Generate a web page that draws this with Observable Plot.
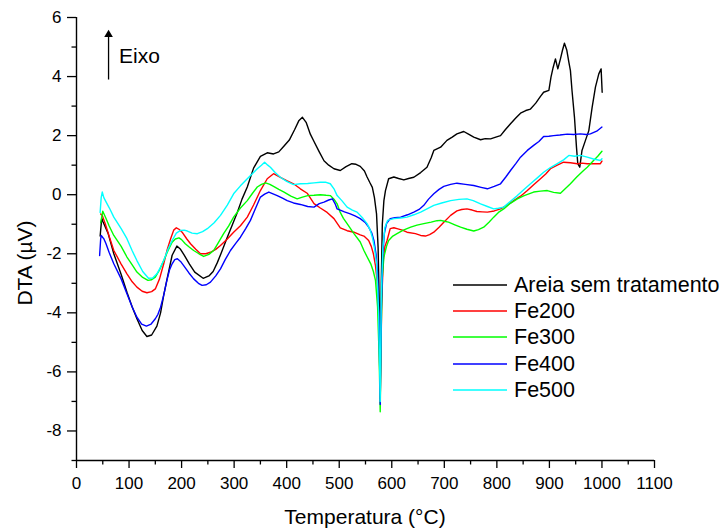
<!DOCTYPE html>
<html>
<head>
<meta charset="utf-8">
<script src="https://cdn.jsdelivr.net/npm/d3@7"></script>
<script src="https://cdn.jsdelivr.net/npm/@observablehq/plot@0.6"></script>
<style>
  body { margin: 0; background: #fff; }
  #wrap { position: relative; width: 722px; height: 531px; font-family: "Liberation Sans", Arial, sans-serif; }
  #overlay { position: absolute; left: 0; top: 0; pointer-events: none; font-family: "Liberation Sans", Arial, sans-serif; }
</style>
</head>
<body>
<div id="wrap"></div>
<script>
// ---- data ----
const seriesNames = ["Areia sem tratamento", "Fe200", "Fe300", "Fe400", "Fe500"];
const seriesColors = ["#000000", "#ff0000", "#00ff00", "#0000ff", "#00ffff"];

const areia = [[45,-1.4],[48,-0.8],[50,-0.9],[60,-1.3],[71,-2.0],[85,-2.7],[96,-3.3],[106,-3.8],[115,-4.2],[125,-4.6],[134,-4.8],[143,-4.75],[153,-4.45],[160,-4.0],[166,-3.4],[173,-2.8],[182,-2.05],[191,-1.74],[198,-1.85],[205,-2.05],[215,-2.35],[225,-2.62],[241,-2.83],[252,-2.75],[260,-2.6],[268,-2.3],[276,-1.95],[287,-1.44],[297,-1.0],[306,-0.6],[315,-0.15],[325,0.26],[337,0.9],[350,1.3],[363,1.42],[375,1.38],[385,1.45],[395,1.65],[405,1.85],[415,2.2],[423,2.5],[430,2.62],[437,2.45],[445,2.05],[452,1.8],[462,1.45],[471,1.15],[480,1.0],[490,0.88],[502,0.82],[513,0.95],[524,1.05],[532,1.03],[540,0.96],[548,0.8],[553,0.6],[558,0.42],[563,0.25],[567,-0.1],[571,-0.65],[574,-1.8],[576,-3.5],[578,-6.6],[580,-3.0],[582,-1.0],[585,-0.2],[588,0.14],[594,0.54],[604,0.6],[613,0.55],[623,0.5],[632,0.55],[642,0.59],[655,0.75],[667,0.93],[675,1.25],[680,1.5],[693,1.61],[705,1.84],[715,1.95],[724,2.06],[737,2.14],[746,2.05],[756,1.95],[769,1.86],[778,1.9],[788,1.89],[798,1.95],[807,2.0],[816,2.2],[826,2.4],[836,2.6],[845,2.76],[855,2.85],[864,2.9],[874,3.1],[883,3.33],[889,3.47],[899,3.53],[903,3.98],[907,4.3],[911.5,4.6],[916,4.26],[921,4.6],[925,4.9],[928.6,5.13],[933,4.9],[937,4.49],[940,4.2],[943,3.53],[947.7,2.62],[951.5,1.61],[954,1.05],[957.8,0.93],[962,1.5],[968.6,1.84],[975,2.17],[981.3,2.96],[987.6,3.64],[994,4.09],[998.4,4.26],[1000.4,3.47]];

const fe200 = [[46,-0.65],[49,-0.7],[55,-1.0],[62,-1.4],[71,-1.89],[85,-2.35],[96,-2.68],[106,-2.95],[115,-3.13],[125,-3.27],[134,-3.32],[143,-3.28],[150,-3.19],[158,-2.85],[166,-2.34],[172,-1.9],[179,-1.5],[185,-1.2],[190,-1.12],[195,-1.17],[201,-1.27],[210,-1.5],[217,-1.66],[227,-1.85],[236,-2.0],[246,-2.0],[255,-1.95],[265,-1.85],[274,-1.72],[287,-1.5],[299,-1.27],[312,-1.05],[325,-0.76],[337,-0.35],[350,0.14],[363,0.54],[375,0.71],[388,0.59],[400,0.48],[413,0.37],[426,0.2],[439,0.05],[452,-0.3],[464,-0.45],[477,-0.6],[490,-0.81],[502,-1.12],[515,-1.22],[528,-1.27],[540,-1.36],[547,-1.4],[556,-1.55],[561,-1.75],[565,-2.0],[569,-2.4],[572,-2.9],[575,-4.0],[578,-6.9],[581,-3.5],[584,-2.2],[587,-1.75],[591,-1.55],[597,-1.15],[604,-1.12],[610,-1.15],[620,-1.2],[629,-1.27],[645,-1.32],[655,-1.38],[664,-1.4],[672,-1.35],[680,-1.27],[690,-1.1],[699,-0.93],[712,-0.7],[724,-0.55],[733,-0.5],[743,-0.48],[753,-0.52],[762,-0.57],[772,-0.58],[782,-0.59],[795,-0.55],[807,-0.48],[820,-0.35],[832,-0.2],[845,-0.05],[858,0.14],[870,0.34],[883,0.54],[893,0.7],[902,0.88],[915,1.0],[927,1.1],[940,1.08],[953,1.05],[962,1.07],[972,1.05],[985,1.05],[997,1.05],[1000,1.14]];

const fe300 = [[46,-0.95],[50,-0.56],[56,-0.8],[62,-1.05],[71,-1.38],[85,-1.75],[96,-2.11],[106,-2.38],[115,-2.62],[126,-2.8],[136,-2.9],[143,-2.88],[150,-2.79],[158,-2.55],[166,-2.23],[174,-1.9],[182,-1.61],[188,-1.5],[195,-1.46],[200,-1.52],[207,-1.66],[215,-1.78],[223,-1.89],[233,-2.0],[242,-2.09],[252,-2.02],[261,-1.89],[270,-1.62],[280,-1.32],[290,-1.05],[299,-0.76],[312,-0.45],[325,-0.2],[335,0.05],[344,0.26],[352,0.35],[360,0.4],[368,0.35],[375,0.28],[385,0.18],[395,0.09],[408,-0.05],[420,-0.14],[430,-0.08],[440,-0.03],[452,-0.02],[464,0.0],[475,-0.02],[483,-0.03],[490,-0.15],[496,-0.31],[502,-0.6],[508,-0.8],[515,-0.98],[528,-1.32],[540,-1.6],[547,-1.89],[553,-2.1],[560,-2.34],[565,-2.6],[569,-2.9],[573,-3.8],[576,-5.5],[578,-7.35],[580,-4.5],[582,-2.8],[585,-2.11],[590,-1.75],[594,-1.55],[602,-1.4],[610,-1.32],[622,-1.2],[636,-1.1],[648,-1.03],[661,-0.98],[675,-0.93],[686,-0.88],[693,-0.87],[700,-0.9],[708,-0.93],[720,-1.02],[731,-1.1],[743,-1.17],[756,-1.23],[765,-1.18],[775,-1.1],[785,-0.93],[794,-0.76],[803,-0.6],[813,-0.48],[825,-0.3],[839,-0.14],[852,-0.03],[870,0.09],[883,0.12],[896,0.14],[908,0.08],[921,0.05],[930,0.2],[940,0.37],[952,0.6],[965,0.82],[972,0.93],[984,1.16],[992,1.3],[1000,1.47]];

const fe400 = [[44,-2.06],[46,-1.5],[47,-1.38],[50,-1.45],[52,-1.49],[56,-1.65],[62,-1.95],[71,-2.34],[85,-2.85],[96,-3.35],[106,-3.8],[115,-4.15],[124,-4.38],[133,-4.45],[142,-4.38],[150,-4.2],[155,-4.05],[160,-3.81],[166,-3.4],[172,-2.9],[177,-2.55],[182,-2.34],[187,-2.2],[192,-2.17],[198,-2.26],[204,-2.4],[214,-2.65],[223,-2.85],[232,-3.0],[239,-3.07],[247,-3.05],[255,-2.96],[265,-2.75],[274,-2.51],[283,-2.2],[293,-1.89],[303,-1.65],[312,-1.44],[322,-1.15],[331,-0.87],[341,-0.45],[350,-0.08],[358,0.02],[366,0.09],[374,0.03],[382,-0.03],[392,-0.12],[401,-0.2],[413,-0.28],[426,-0.33],[440,-0.4],[452,-0.42],[462,-0.3],[471,-0.25],[480,-0.18],[487,-0.14],[492,-0.3],[496,-0.48],[510,-0.58],[521,-0.65],[530,-0.72],[540,-0.81],[550,-0.95],[556,-1.1],[562,-1.3],[566,-1.55],[570,-2.0],[573,-2.68],[576,-4.5],[578,-7.1],[580,-4.0],[583,-2.0],[586,-1.3],[590,-0.98],[597,-0.81],[606,-0.78],[617,-0.76],[630,-0.68],[642,-0.59],[652,-0.5],[661,-0.36],[670,-0.15],[680,0.03],[690,0.18],[699,0.28],[712,0.35],[724,0.39],[740,0.35],[756,0.31],[770,0.25],[782,0.2],[795,0.28],[807,0.37],[817,0.6],[826,0.82],[836,1.05],[845,1.27],[858,1.5],[870,1.67],[880,1.8],[889,1.97],[899,1.98],[908,2.0],[920,2.02],[934,2.05],[946,2.04],[959,2.06],[970,2.04],[978,2.06],[990,2.15],[1000,2.29]];

const fe500 = [[45,-0.6],[47,-0.1],[49,0.09],[52,-0.1],[58,-0.3],[64,-0.5],[71,-0.76],[85,-1.15],[96,-1.49],[106,-1.9],[115,-2.23],[126,-2.6],[137,-2.83],[145,-2.82],[153,-2.68],[160,-2.45],[166,-2.23],[174,-1.85],[182,-1.55],[190,-1.3],[198,-1.21],[205,-1.2],[211,-1.23],[220,-1.3],[230,-1.32],[240,-1.25],[249,-1.15],[262,-0.95],[274,-0.7],[287,-0.35],[299,0.03],[312,0.3],[325,0.54],[335,0.72],[344,0.88],[352,1.0],[358,1.1],[364,1.0],[369,0.93],[378,0.75],[388,0.59],[400,0.45],[413,0.34],[426,0.37],[440,0.38],[452,0.4],[464,0.42],[475,0.42],[483,0.37],[490,0.2],[496,-0.03],[505,-0.2],[515,-0.42],[525,-0.52],[534,-0.59],[545,-0.8],[553,-0.98],[559,-1.2],[563,-1.44],[567,-1.8],[571,-2.34],[575,-4.0],[578,-7.0],[580,-3.5],[583,-1.8],[587,-1.1],[592,-0.87],[604,-0.81],[617,-0.79],[629,-0.76],[642,-0.68],[655,-0.59],[667,-0.48],[680,-0.36],[695,-0.28],[712,-0.2],[728,-0.16],[743,-0.14],[755,-0.2],[769,-0.31],[782,-0.4],[794,-0.48],[803,-0.46],[813,-0.42],[826,-0.22],[839,-0.03],[851,0.17],[864,0.37],[877,0.57],[889,0.76],[902,0.92],[915,1.05],[927,1.18],[937,1.33],[948,1.3],[959,1.33],[972,1.27],[984,1.21],[997,1.16],[1000,1.22]];

const xDomain = [0, 1100];
const yDomain = [-9, 6];
const xMajorTicks = [0,100,200,300,400,500,600,700,800,900,1000,1100];
const xMinorTicks = [50,150,250,350,450,550,650,750,850,950,1050];
const yMajorTicks = [-8,-6,-4,-2,0,2,4,6];
const yMinorTicks = [-9,-7,-5,-3,-1,1,3,5];
const xTitle = "Temperatura (°C)";
const yTitle = "DTA (µV)";
const eixoArrow = [{x: 61, y1: 3.9, y2: 5.42}];
const eixoLabel = [{x: 81, y: 4.68, text: "Eixo"}];

// ---- chart ----
const allSeries = [areia, fe200, fe300, fe400, fe500];
const fmt = d => String(d);

const chart = Plot.plot({
  width: 722,
  height: 531,
  marginLeft: 76,
  marginRight: 68,
  marginTop: 17,
  marginBottom: 71,
  style: {fontFamily: "'Liberation Sans', Arial, sans-serif", fontSize: "17px", color: "#000", background: "#fff"},
  x: {domain: xDomain},
  y: {domain: yDomain},
  marks: [
    ...allSeries.map((s, i) => Plot.line(s, {x: d => d[0], y: d => d[1], stroke: seriesColors[i], strokeWidth: 1.4})),
    Plot.ruleX([xDomain[0]], {stroke: "#000", strokeWidth: 1.4}),
    Plot.ruleY([yDomain[0]], {stroke: "#000", strokeWidth: 1.4}),
    Plot.axisX({ticks: xMajorTicks, tickSize: 8, tickPadding: 8, tickFormat: fmt, label: null, strokeWidth: 1.3}),
    Plot.axisX({ticks: xMinorTicks, tickSize: 4.5, tickFormat: () => "", label: null, strokeWidth: 1.3}),
    Plot.axisY({ticks: yMajorTicks, tickSize: 9, tickPadding: 6, tickFormat: fmt, label: null, strokeWidth: 1.3}),
    Plot.axisY({ticks: yMinorTicks, tickSize: 4.5, tickFormat: () => "", label: null, strokeWidth: 1.3}),
    Plot.link(eixoArrow, {x1: "x", x2: "x", y1: "y1", y2: "y2", stroke: "#000", strokeWidth: 1.3}),
    Plot.dot(eixoArrow, {x: "x", y: "y2", symbol: "triangle", r: 3.2, fill: "#000", stroke: null}),
    Plot.text(eixoLabel, {x: "x", y: "y", text: "text", textAnchor: "start", fontSize: 21, fill: "#000"})
  ]
});

const wrap = document.getElementById("wrap");
wrap.appendChild(chart);

// axis titles and legend drawn in an overlay SVG
const NS = "http://www.w3.org/2000/svg";
const ov = document.createElementNS(NS, "svg");
ov.setAttribute("id", "overlay");
ov.setAttribute("width", 722);
ov.setAttribute("height", 531);
wrap.appendChild(ov);

function addText(str, x, y, anchor, rotate, size) {
  const t = document.createElementNS(NS, "text");
  t.setAttribute("transform", `translate(${x},${y})` + (rotate ? ` rotate(${rotate})` : ""));
  t.setAttribute("text-anchor", anchor);
  t.setAttribute("dominant-baseline", "central");
  t.setAttribute("font-size", size);
  t.setAttribute("fill", "#000");
  t.textContent = str;
  ov.appendChild(t);
}
addText(xTitle, 365, 516, "middle", 0, 21);
addText(yTitle, 24, 263, "middle", -90, 21);

const legendRowY = [285, 311, 337, 364, 390];
seriesNames.forEach((name, i) => {
  const l = document.createElementNS(NS, "line");
  l.setAttribute("x1", 453); l.setAttribute("x2", 507);
  l.setAttribute("y1", legendRowY[i]); l.setAttribute("y2", legendRowY[i]);
  l.setAttribute("stroke", seriesColors[i]);
  l.setAttribute("stroke-width", 1.5);
  ov.appendChild(l);
  addText(name, 514, legendRowY[i], "start", 0, 21.5);
});
</script>
</body>
</html>
